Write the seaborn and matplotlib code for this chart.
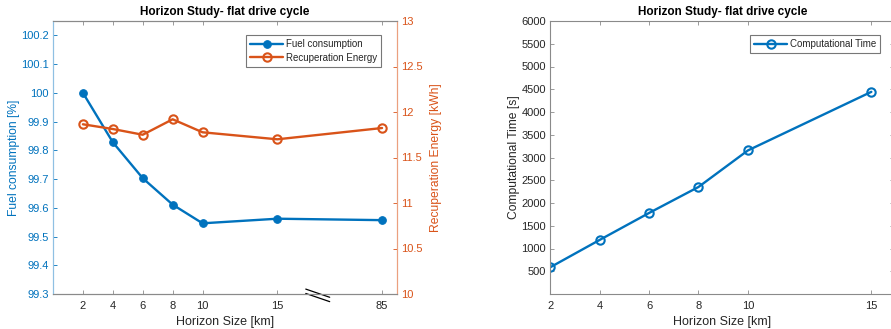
import numpy as np
import pandas as pd
import matplotlib
matplotlib.use("Agg")
import matplotlib.pyplot as plt
import seaborn as sns

sns.set_theme(style="white")
plt.rcParams['font.family'] = ['Liberation Sans', 'DejaVu Sans']

# ---- data ----
horizon_km = [2, 4, 6, 8, 10, 15, 85]
fuel_consumption = [100.0, 99.828, 99.703, 99.611, 99.546, 99.562, 99.557]
recuperation_energy = [11.865, 11.813, 11.75, 11.92, 11.777, 11.70, 11.824]

comp_horizon_km = [2, 4, 6, 8, 10, 15]
computational_time = [588, 1189, 1781, 2352, 3155, 4443]

BLUE = "#0072BD"
ORANGE = "#D95319"
GRAY = "#8a8a8a"
TXT = "#262626"

# broken axis: values past 15 km are drawn at a compressed position
def axis_pos(v):
    return v if v <= 15 else 22

pos = [axis_pos(v) for v in horizon_km]
df_left = pd.DataFrame({"pos": pos, "fuel": fuel_consumption, "recup": recuperation_energy})
df_right = pd.DataFrame({"h": comp_horizon_km, "t": computational_time})

fig = plt.figure(figsize=(8.91, 3.29), dpi=100)

# ---------------- left chart ----------------
ax = fig.add_axes([53/891, 35/329, 344/891, 273/329])
ax2 = ax.twinx()

sns.lineplot(data=df_left, x="pos", y="fuel", ax=ax, color=BLUE, lw=1.7,
             marker="o", markersize=5.5, markeredgecolor=BLUE, markerfacecolor=BLUE,
             label="Fuel consumption", legend=False)
sns.lineplot(data=df_left, x="pos", y="recup", ax=ax2, color=ORANGE, lw=1.7,
             marker="o", markersize=6, markeredgecolor=ORANGE, markerfacecolor="none",
             markeredgewidth=1.5, label="Recuperation Energy", legend=False)

ax.set_xlim(0, 23)
ax.set_ylim(99.3, 100.25)
ax2.set_ylim(10, 13)
ax.set_xticks(pos)
ax.set_xticklabels([str(v) for v in horizon_km])
ax.set_yticks(np.round(np.arange(99.3, 100.21, 0.1), 1))
ax.set_yticklabels(["99.3", "99.4", "99.5", "99.6", "99.7", "99.8", "99.9", "100", "100.1", "100.2"])
ax2.set_yticks([10, 10.5, 11, 11.5, 12, 12.5, 13])
ax2.set_yticklabels(["10", "10.5", "11", "11.5", "12", "12.5", "13"])

ax.set_xlabel("Horizon Size [km]", fontsize=9, color=TXT, labelpad=4)
ax.set_ylabel("Fuel consumption [%]", fontsize=8.7, color=BLUE, labelpad=1)
ax2.set_ylabel("Recuperation Energy [kWh]", fontsize=8.7, color=ORANGE, labelpad=5)
ax.set_title("Horizon Study- flat drive cycle", fontsize=8.5, fontweight="bold", color="black", pad=4)

ax.tick_params(axis="x", direction="in", top=True, bottom=True, length=3, width=0.6,
               color=GRAY, labelsize=8, labelcolor=TXT, pad=5)
ax.tick_params(axis="y", direction="in", left=True, length=3, width=0.6,
               color=BLUE, labelsize=8, labelcolor=BLUE, pad=3)
ax2.tick_params(axis="y", direction="in", right=True, length=3, width=0.6,
                color=ORANGE, labelsize=8, labelcolor=ORANGE, pad=3)
for a in (ax, ax2):
    for s in a.spines.values():
        s.set_linewidth(0.8)
    a.spines["top"].set_color(GRAY)
    a.spines["bottom"].set_color(GRAY)
    a.spines["left"].set_color("#8fc0e3")
    a.spines["right"].set_color("#eba07f")
ax.grid(False); ax2.grid(False)

# break marks on the x axis
for dy in (0.0, -0.016):
    ax.plot([16.9, 18.5], [0.018 + dy, -0.012 + dy], transform=ax.get_xaxis_transform(),
            color="black", lw=0.9, clip_on=False)

h1, l1 = ax.get_legend_handles_labels()
h2, l2 = ax2.get_legend_handles_labels()
leg = ax2.legend(h1 + h2, l1 + l2, loc="upper right", fontsize=7, frameon=True,
                 fancybox=False, edgecolor="#555555", borderpad=0.4, handlelength=3.4,
                 handletextpad=0.3, labelspacing=0.35, bbox_to_anchor=(0.968, 0.965))
leg.get_frame().set_linewidth(0.8)

# ---------------- right chart ----------------
bx = fig.add_axes([550.3/891, 35/329, 344/891, 273/329])
sns.lineplot(data=df_right, x="h", y="t", ax=bx, color=BLUE, lw=1.7,
             marker="o", markersize=6, markeredgecolor=BLUE, markerfacecolor="none",
             markeredgewidth=1.5, label="Computational Time", legend=False)
bx.set_xlim(2, 15.93)
bx.set_ylim(0, 6000)
bx.set_xticks(comp_horizon_km)
bx.set_xticklabels([str(v) for v in comp_horizon_km])
bx.set_yticks(np.arange(500, 6001, 500))
bx.set_xlabel("Horizon Size [km]", fontsize=9, color=TXT, labelpad=4)
bx.set_ylabel("Computational Time [s]", fontsize=8.7, color=TXT, labelpad=1)
bx.set_title("Horizon Study- flat drive cycle", fontsize=8.5, fontweight="bold", color="black", pad=4)
bx.tick_params(axis="x", direction="in", top=True, bottom=True, length=3, width=0.6,
               color=GRAY, labelsize=8, labelcolor=TXT, pad=5)
bx.tick_params(axis="y", direction="in", left=True, right=True, length=3, width=0.6,
               color=GRAY, labelsize=8, labelcolor=TXT, pad=3)
for s in bx.spines.values():
    s.set_color(GRAY)
    s.set_linewidth(0.8)
bx.grid(False)
leg2 = bx.legend(loc="upper right", fontsize=7, frameon=True, fancybox=False,
                 edgecolor="#555555", borderpad=0.4, handlelength=3.4, handletextpad=0.3,
                 bbox_to_anchor=(0.973, 0.965))
leg2.get_frame().set_linewidth(0.8)

fig.savefig("out.png", dpi=100)
